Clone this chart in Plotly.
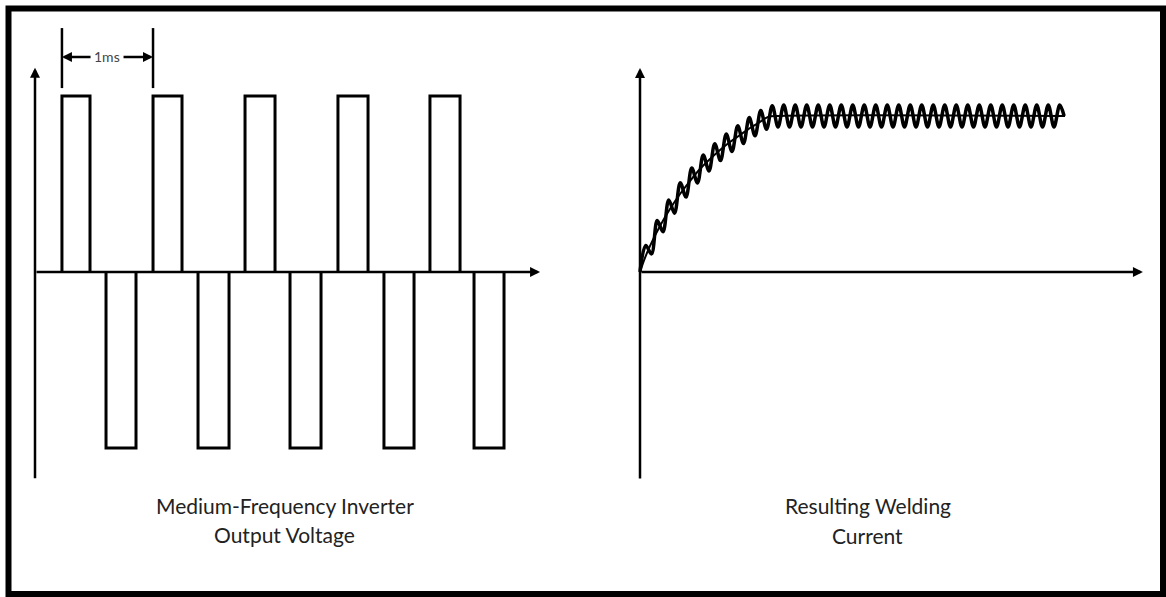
import plotly.graph_objects as go

# left panel: inverter output voltage (time in ms, voltage normalised)
pos_on = [0.293, 1.283, 2.283, 3.293, 4.293]
pos_off = [0.598, 1.598, 2.609, 3.620, 4.620]
neg_on = [0.772, 1.772, 2.772, 3.793, 4.772]
neg_off = [1.098, 2.109, 3.109, 4.120, 5.098]
v_level = 1.0

# right panel: welding current, smooth average and ripple extremes
mean_t = [0, 0.054, 0.109, 0.217, 0.326, 0.435, 0.543, 0.652, 0.761, 0.870,
          0.978, 1.087, 1.196, 1.304, 1.391, 1.522, 4.620]
mean_i = [0, 0.090, 0.167, 0.295, 0.404, 0.500, 0.583, 0.660, 0.724, 0.782,
          0.833, 0.878, 0.923, 0.962, 0.994, 1.0, 1.0]

ripple_t = [0.0, 0.0625, 0.125, 0.1875, 0.25, 0.3125, 0.375, 0.4375, 0.5, 0.5625,
            0.625, 0.6875, 0.75, 0.8125, 0.875, 0.9375, 1.0, 1.0625, 1.125, 1.1875,
            1.25, 1.3125, 1.375, 1.4375, 1.5, 1.5625, 1.625, 1.6875, 1.75, 1.8125,
            1.875, 1.9375, 2.0, 2.0625, 2.125, 2.1875, 2.25, 2.3125, 2.375, 2.4375,
            2.5, 2.5625, 2.625, 2.6875, 2.75, 2.8125, 2.875, 2.9375, 3.0, 3.0625,
            3.125, 3.1875, 3.25, 3.3125, 3.375, 3.4375, 3.5, 3.5625, 3.625, 3.6875,
            3.75, 3.8125, 3.875, 3.9375, 4.0, 4.0625, 4.125, 4.1875, 4.25, 4.3125,
            4.375, 4.4375, 4.5, 4.5625, 4.61]
ripple_i = [0.0, 0.17, 0.116, 0.33, 0.258, 0.462, 0.377, 0.572, 0.48, 0.667,
            0.571, 0.75, 0.648, 0.822, 0.714, 0.884, 0.772, 0.938, 0.824, 0.99,
            0.873, 1.035, 0.915, 1.066, 0.93, 1.07, 0.93, 1.07, 0.93, 1.07,
            0.93, 1.07, 0.93, 1.07, 0.93, 1.07, 0.93, 1.07, 0.93, 1.07,
            0.93, 1.07, 0.93, 1.07, 0.93, 1.07, 0.93, 1.07, 0.93, 1.07,
            0.93, 1.07, 0.93, 1.07, 0.93, 1.07, 0.93, 1.07, 0.93, 1.07,
            0.93, 1.07, 0.93, 1.07, 0.93, 1.07, 0.93, 1.07, 0.93, 1.07,
            0.93, 1.07, 0.93, 1.07, 1.0]

# 1ms marker
marker_t = [pos_on[0], pos_on[1]]
marker_lo, marker_hi, marker_y = 1.045, 1.386, 1.222

# axis extents
left_x_end, left_y_lo, left_y_hi = 5.49, -1.18, 1.16
right_x_end, right_y_lo, right_y_hi = 5.467, -1.333, 1.308

INK = "black"
FONT = "Lato"

# build pulse outlines
px, py = [], []
for on, off in zip(pos_on, pos_off):
    px += [on, on, off, off, None]
    py += [0, v_level, v_level, 0, None]
for on, off in zip(neg_on, neg_off):
    px += [on, on, off, off, None]
    py += [0, -v_level, -v_level, 0, None]

fig = go.Figure()
fig.add_trace(go.Scatter(x=px, y=py, mode="lines", line=dict(color=INK, width=3),
                         xaxis="x", yaxis="y", hoverinfo="skip"))
fig.add_trace(go.Scatter(x=mean_t, y=mean_i, mode="lines", line=dict(color=INK, width=2, shape="spline"),
                         xaxis="x2", yaxis="y2", hoverinfo="skip"))
fig.add_trace(go.Scatter(x=ripple_t, y=ripple_i, mode="lines",
                         line=dict(color=INK, width=3.5, shape="spline", smoothing=1.0),
                         xaxis="x2", yaxis="y2", hoverinfo="skip"))


def arrow(x, y, ax, ay, xr="x", yr="y", width=2.5, size=0.8):
    fig.add_annotation(x=x, y=y, ax=ax, ay=ay, xref=xr, yref=yr, axref=xr, ayref=yr,
                       text="", showarrow=True, arrowhead=2, arrowsize=size,
                       arrowwidth=width, arrowcolor=INK, standoff=0, startstandoff=0)


# axes with arrowheads
arrow(0, left_y_hi, 0, left_y_lo)
arrow(left_x_end, 0, 0, 0)
arrow(0, right_y_hi, 0, right_y_lo, "x2", "y2")
arrow(right_x_end, 0, 0, 0, "x2", "y2")

# 1ms dimension marker
for t in marker_t:
    fig.add_shape(type="line", x0=t, x1=t, y0=marker_lo, y1=marker_hi, xref="x", yref="y",
                  line=dict(color=INK, width=2.5))
arrow(marker_t[0], marker_y, 0.62, marker_y)
arrow(marker_t[1], marker_y, 0.946, marker_y)
fig.add_annotation(x=sum(marker_t) / 2, y=marker_y, xref="x", yref="y", text="1ms",
                   showarrow=False, font=dict(family=FONT, size=14, color="#444"))

# captions
for txt, y in [("Medium-Frequency Inverter", -1.324), ("Output Voltage", -1.494)]:
    fig.add_annotation(x=2.717, y=y, xref="x", yref="y", text=txt, showarrow=False,
                       font=dict(family=FONT, size=21, color="#222"))
for txt, y in [("Resulting Welding", -1.494), ("Current", -1.686)]:
    fig.add_annotation(x=2.478, y=y, xref="x2", yref="y2", text=txt, showarrow=False,
                       font=dict(family=FONT, size=21, color="#222"))

# outer frame
W, H = 1166, 597
fig.add_shape(type="rect", xref="paper", yref="paper",
              x0=8.5 / W, x1=1163 / W, y0=1 - 594 / H, y1=1 - 8.5 / H,
              line=dict(color=INK, width=6))

fig.update_layout(
    width=W, height=H, margin=dict(l=0, r=0, t=0, b=0),
    paper_bgcolor="white", plot_bgcolor="white", showlegend=False,
    xaxis=dict(domain=[0, 0.5], range=[-0.3804, 5.9565], visible=False),
    yaxis=dict(domain=[0, 1], range=[-1.8466, 1.5455], visible=False),
    xaxis2=dict(domain=[0.5, 1], range=[-0.6196, 5.7174], visible=False, anchor="y2"),
    yaxis2=dict(domain=[0, 1], range=[-2.0833, 1.7436], visible=False, anchor="x2"),
)

# page default margin would push the figure off the window
fig.write_html("out.html", config={"displayModeBar": False},
               post_script="document.body.style.margin='0';")
